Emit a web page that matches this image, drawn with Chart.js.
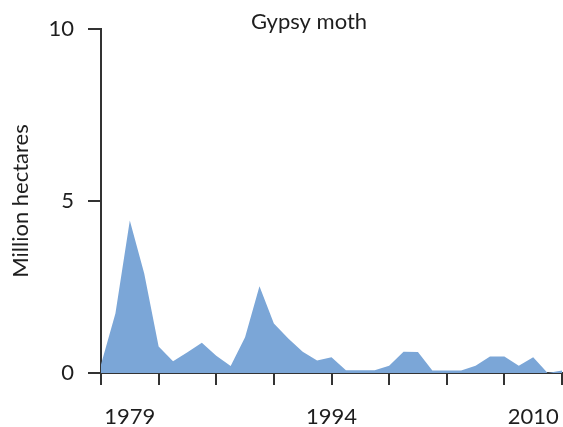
<!DOCTYPE html>
<html>
<head>
<meta charset="utf-8">
<script src="https://cdn.jsdelivr.net/npm/chart.js@4.4.1/dist/chart.umd.min.js"></script>
<style>
  html, body { margin: 0; padding: 0; background: #fff; }
  #wrap { width: 563px; height: 427px; }
</style>
</head>
<body>
<div id="wrap"><canvas id="myChart"></canvas></div>
<script>
// one point per year
let years = [];
for (let y = 1977; y <= 2009; y++) years.push(String(y));

let hectares = [0.25, 1.73, 4.43, 2.89, 0.77, 0.34, 0.6, 0.88, 0.5, 0.2,
                1.04, 2.52, 1.44, 1.0, 0.62, 0.36, 0.46, 0.08, 0.08, 0.08,
                0.21, 0.62, 0.61, 0.07, 0.07, 0.07, 0.21, 0.48, 0.48, 0.21,
                0.46, 0.0, 0.07];

// shown labels and where they sit
let xTickLabels = ['1979', '1994', '2010'];
let xTickIndex = [2, 16, 30];
let yTicks = [0, 5, 10];

const font = 'Lato, "Open Sans", sans-serif';
const ink = '#1e1e1e';

const titlePlugin = {
  id: 'chartTitle',
  afterDraw(chart) {
    let c = chart.ctx;
    c.save();
    c.font = '22px ' + font;
    c.fillStyle = ink;
    c.textAlign = 'center';
    c.textBaseline = 'middle';
    c.fillText('Gypsy moth', 309, 22);
    c.restore();
  }
};

const ctx = document.getElementById('myChart');

new Chart(ctx, {
  type: 'line',
  data: {
    labels: years,
    datasets: [{
      data: hectares,
      fill: 'origin',
      backgroundColor: '#7ba6d7',
      borderColor: '#7ba6d7',
      borderWidth: 0,
      pointRadius: 0,
      tension: 0
    }]
  },
  options: {
    responsive: true,
    maintainAspectRatio: false,
    animation: false,
    layout: { padding: { top: 29, right: 1, left: 0, bottom: 0 } },
    plugins: { legend: { display: false }, tooltip: { enabled: false } },
    scales: {
      x: {
        afterFit: (s) => { s.height = 54; s.paddingRight = 0; s.paddingLeft = 0; },
        grid: {
          drawOnChartArea: false,
          tickLength: 12,
          lineWidth: 2,
          color: (c) => (c.index % 4 === 0 ? '#333' : 'rgba(0,0,0,0)')
        },
        border: { display: true, color: '#333', width: 2 },
        ticks: {
          autoSkip: false,
          maxRotation: 0,
          padding: 19,
          color: ink,
          font: { family: font, size: 22 },
          callback: (v, i) => {
            let k = xTickIndex.indexOf(i);
            return k >= 0 ? xTickLabels[k] : '';
          }
        }
      },
      y: {
        min: 0,
        max: 10,
        afterFit: (s) => { s.width = 101; },
        afterBuildTicks: (s) => { s.ticks = yTicks.map(v => ({ value: v })); },
        grid: { drawOnChartArea: false, tickLength: 13, lineWidth: 2, color: '#333' },
        border: { display: true, color: '#333', width: 2 },
        ticks: {
          padding: 14,
          color: ink,
          font: { family: font, size: 22 }
        },
        title: {
          display: true,
          text: 'Million hectares',
          color: ink,
          font: { family: font, size: 22 },
          padding: { top: 8, bottom: 0 }
        }
      }
    }
  },
  plugins: [titlePlugin]
});
</script>
</body>
</html>
